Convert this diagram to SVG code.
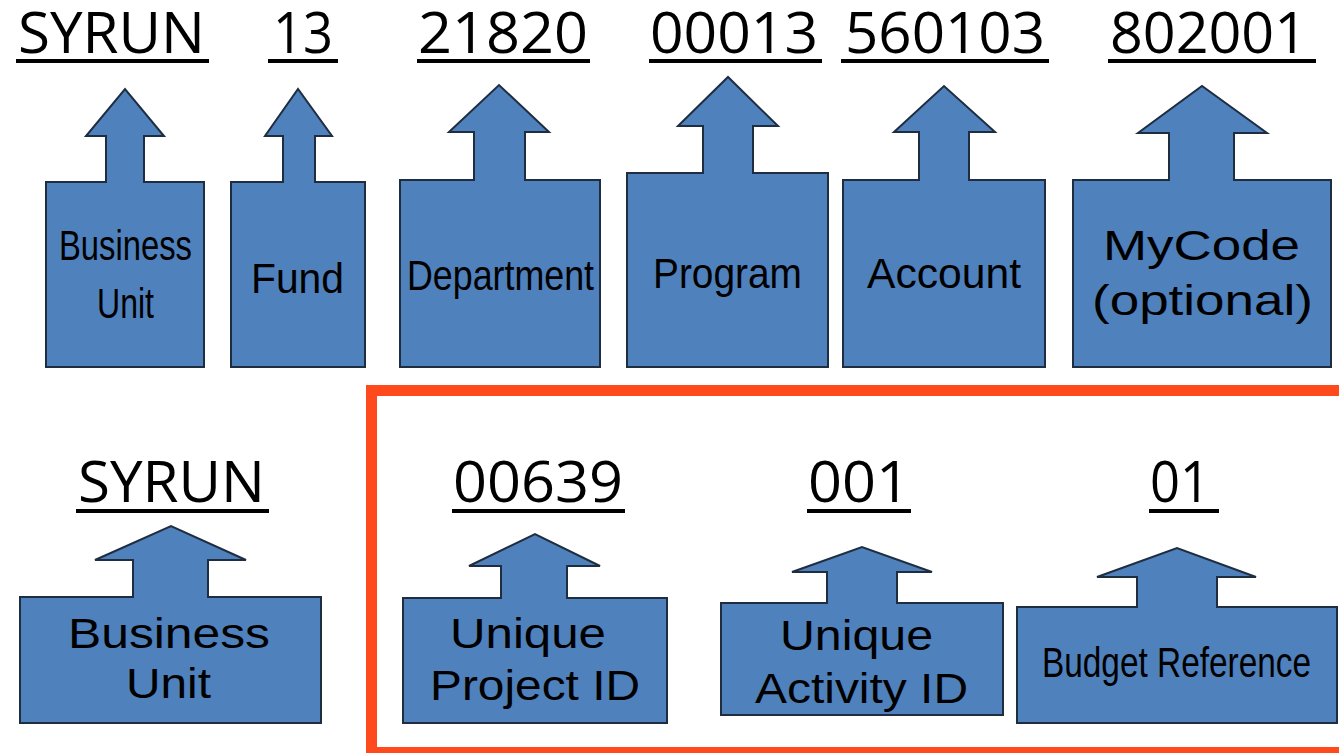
<svg xmlns="http://www.w3.org/2000/svg" width="1339" height="753" viewBox="0 0 1339 753">
<style>
.shape{fill:#4F81BD;stroke:#1F2D40;stroke-width:2;stroke-linejoin:miter}
.code{font-family:"Open Sans","Noto Sans",sans-serif;font-size:57px;fill:#000;text-anchor:middle}
.ul{fill:#000}
.lbl{font-family:"Liberation Sans",Arial,sans-serif;font-size:42px;fill:#000;text-anchor:middle}
</style>
<rect width="1339" height="753" fill="#fff"/>
<g id="frame">
<rect x="371.5" y="390.5" width="1100" height="362" fill="none" stroke="#FF4A1E" stroke-width="11"/>
</g>
<g id="node-bu1">
<text class="code" x="111.5" y="53" textLength="187" lengthAdjust="spacingAndGlyphs">SYRUN</text>
<rect class="ul" x="16" y="59" width="193" height="4"/>
<path class="shape" d="M46,182 H106 V136 H86 L125,89 L164,136 H144 V182 H204 V367 H46 Z"/>
<text class="lbl" x="125.5" y="260" textLength="133" lengthAdjust="spacingAndGlyphs">Business</text>
<text class="lbl" x="125.5" y="318" textLength="57" lengthAdjust="spacingAndGlyphs">Unit</text>
</g>
<g id="node-fund">
<text class="code" x="303" y="53" textLength="60" lengthAdjust="spacingAndGlyphs">13</text>
<rect class="ul" x="268" y="59" width="70" height="4"/>
<path class="shape" d="M231,182 H283 V136 H265 L298,89 L332,136 H315 V182 H365 V367 H231 Z"/>
<text class="lbl" x="297.5" y="293" textLength="93" lengthAdjust="spacingAndGlyphs">Fund</text>
</g>
<g id="node-dept">
<text class="code" x="503" y="53" textLength="170" lengthAdjust="spacingAndGlyphs">21820</text>
<rect class="ul" x="417" y="59" width="173" height="4"/>
<path class="shape" d="M400,180 H474 V132 H449 L499,85 L549,132 H525 V180 H600 V367 H400 Z"/>
<text class="lbl" x="500.5" y="290" font-size="44" textLength="187" lengthAdjust="spacingAndGlyphs">Department</text>
</g>
<g id="node-program">
<text class="code" x="734" y="53" textLength="168" lengthAdjust="spacingAndGlyphs">00013</text>
<rect class="ul" x="649" y="59" width="173" height="4"/>
<path class="shape" d="M627,173 H703 V126 H678 L728,77 L778,126 H753 V173 H828 V367 H627 Z"/>
<text class="lbl" x="727.5" y="288" textLength="149" lengthAdjust="spacingAndGlyphs">Program</text>
</g>
<g id="node-account">
<text class="code" x="945" y="53" textLength="200" lengthAdjust="spacingAndGlyphs">560103</text>
<rect class="ul" x="841" y="59" width="208" height="4"/>
<path class="shape" d="M843,180 H919 V132 H894 L944,86 L995,132 H969 V180 H1045 V367 H843 Z"/>
<text class="lbl" x="944" y="288" font-size="43" textLength="154" lengthAdjust="spacingAndGlyphs">Account</text>
</g>
<g id="node-mycode">
<text class="code" x="1208.5" y="53" textLength="197" lengthAdjust="spacingAndGlyphs">802001</text>
<rect class="ul" x="1108" y="59" width="208" height="4"/>
<path class="shape" d="M1073,180 H1169 V133 H1138 L1202,86 L1267,133 H1234 V180 H1331 V367 H1073 Z"/>
<text class="lbl" x="1201.5" y="260" font-size="43" textLength="197" lengthAdjust="spacingAndGlyphs">MyCode</text>
<text class="lbl" x="1202.5" y="315" font-size="43" textLength="221" lengthAdjust="spacingAndGlyphs">(optional)</text>
</g>
<g id="node-bu2">
<text class="code" x="171.5" y="502" textLength="187" lengthAdjust="spacingAndGlyphs">SYRUN</text>
<rect class="ul" x="76" y="509" width="193" height="4"/>
<path class="shape" d="M20,597 H133 V560 H95 L171,526 L246,560 H208 V597 H321 V723 H20 Z"/>
<text class="lbl" x="169" y="648" font-size="40" textLength="202" lengthAdjust="spacingAndGlyphs">Business</text>
<text class="lbl" x="168.5" y="698" font-size="40" textLength="85" lengthAdjust="spacingAndGlyphs">Unit</text>
</g>
<g id="node-project">
<text class="code" x="538" y="502" textLength="170" lengthAdjust="spacingAndGlyphs">00639</text>
<rect class="ul" x="452" y="509" width="173" height="4"/>
<path class="shape" d="M403,598 H501 V566 H469 L535,534 L600,566 H567 V598 H667 V723 H403 Z"/>
<text class="lbl" x="528" y="648" font-size="40" textLength="156" lengthAdjust="spacingAndGlyphs">Unique</text>
<text class="lbl" x="535" y="700" font-size="40" textLength="210" lengthAdjust="spacingAndGlyphs">Project ID</text>
</g>
<g id="node-activity">
<text class="code" x="859" y="502" textLength="102" lengthAdjust="spacingAndGlyphs">001</text>
<rect class="ul" x="807" y="509" width="104" height="4"/>
<path class="shape" d="M721,603 H827 V572 H792 L862,547 L932,572 H897 V603 H1003 V715 H721 Z"/>
<text class="lbl" x="856.5" y="650" font-size="40" textLength="153" lengthAdjust="spacingAndGlyphs">Unique</text>
<text class="lbl" x="861.5" y="703" font-size="40" textLength="213" lengthAdjust="spacingAndGlyphs">Activity ID</text>
</g>
<g id="node-budget">
<text class="code" x="1180" y="502" textLength="60" lengthAdjust="spacingAndGlyphs">01</text>
<rect class="ul" x="1149" y="509" width="70" height="4"/>
<path class="shape" d="M1017,607 H1137 V577 H1097 L1177,548 L1256,577 H1217 V607 H1337 V723 H1017 Z"/>
<text class="lbl" x="1176.5" y="677" font-size="41" textLength="269" lengthAdjust="spacingAndGlyphs">Budget Reference</text>
</g>
<g id="connectors"></g>
</svg>
